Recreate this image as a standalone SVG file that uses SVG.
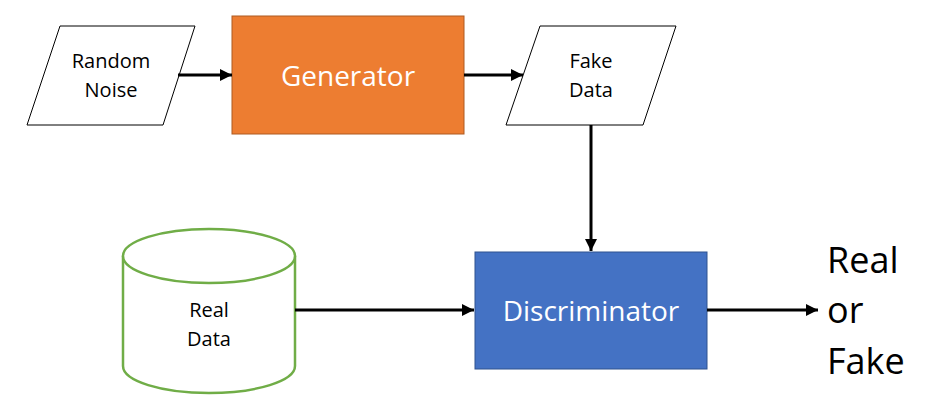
<svg xmlns="http://www.w3.org/2000/svg" width="930" height="410" viewBox="0 0 930 410">
<defs>
<marker id="ah" viewBox="0 0 10 10" refX="10" refY="5" markerWidth="4" markerHeight="4" orient="auto" markerUnits="strokeWidth">
<path d="M0,0 L10,5 L0,10 Z" fill="#000"/>
</marker>
<style>
.io{fill:#fff;stroke:#000;stroke-width:1}
.t{font-family:"Open Sans","Liberation Sans",sans-serif;text-anchor:middle}
.dark{fill:#000;font-size:20px}
.white{fill:#fff;font-size:28px}
.big{fill:#000;font-size:36px;text-anchor:start}
.conn{stroke:#000;stroke-width:3;fill:none;marker-end:url(#ah)}
</style>
</defs>
<rect width="930" height="410" fill="#fff"/>
<g id="random-noise">
<polygon class="io" points="60,26 195,26 163,125 27,125"/>
<text class="t dark" x="111" y="68">Random</text>
<text class="t dark" x="111" y="97">Noise</text>
</g>
<g id="generator">
<rect x="232" y="16" width="232" height="118" fill="#ED7D31" stroke="#AE5A21" stroke-width="1"/>
<text class="t white" x="348" y="86">Generator</text>
</g>
<g id="fake-data">
<polygon class="io" points="540,26 676,26 643,125 506,125"/>
<text class="t dark" x="591" y="68">Fake</text>
<text class="t dark" x="591" y="97">Data</text>
</g>
<g id="real-data">
<path d="M123,256 V366 A86,27 0 0 0 295,366 V256" fill="#fff" stroke="#70AD47" stroke-width="2.5"/>
<ellipse cx="209" cy="256" rx="86" ry="27" fill="#fff" stroke="#70AD47" stroke-width="2.5"/>
<text class="t dark" x="209" y="317">Real</text>
<text class="t dark" x="209" y="346">Data</text>
</g>
<g id="discriminator">
<rect x="475" y="252" width="232" height="117" fill="#4472C4" stroke="#2F528F" stroke-width="1"/>
<text class="t white" x="591" y="321">Discriminator</text>
</g>
<g id="output">
<text class="t big" x="827" y="273">Real</text>
<text class="t big" x="827" y="323">or</text>
<text class="t big" x="827" y="374">Fake</text>
</g>
<g id="connectors">
<line class="conn" x1="178" y1="75" x2="232" y2="75"/>
<line class="conn" x1="464" y1="75" x2="523" y2="75"/>
<line class="conn" x1="591" y1="125" x2="591" y2="251"/>
<line class="conn" x1="295" y1="310" x2="474" y2="310"/>
<line class="conn" x1="707" y1="310" x2="818" y2="310"/>
</g>
</svg>
